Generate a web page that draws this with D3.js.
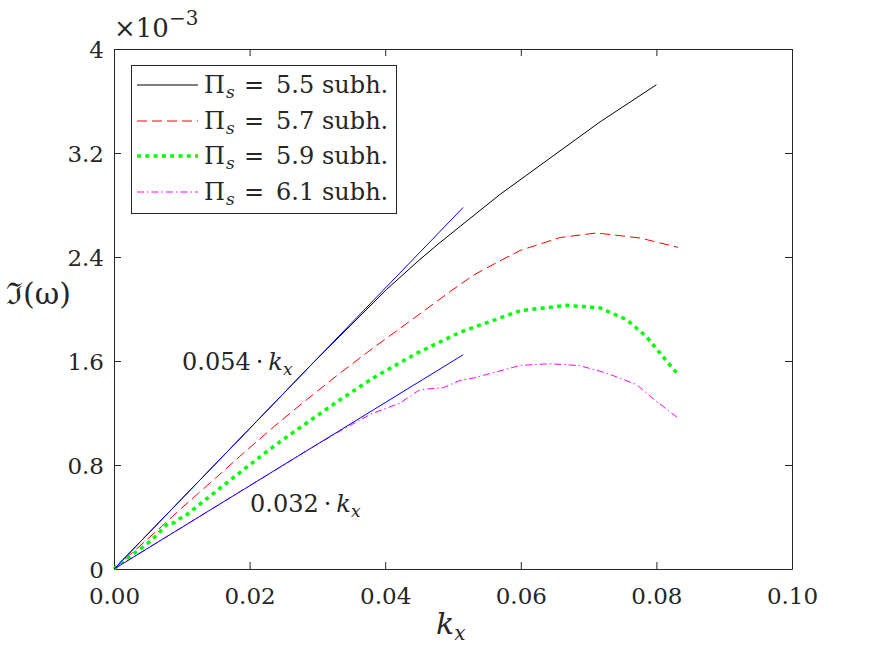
<!DOCTYPE html>
<html><head><meta charset="utf-8">
<script src="https://cdn.jsdelivr.net/npm/d3@7"></script>
<style>body{margin:0;background:#fff}text{font-family:"DejaVu Serif","Liberation Serif",serif;fill:#262626}</style>
</head><body>
<svg id="c" width="875" height="656"></svg>
<script>
// ---- data (Im(omega) in units of 1e-3) ----
const xTicks=[0,0.02,0.04,0.06,0.08,0.10];
const xTickLabels=["0.00","0.02","0.04","0.06","0.08","0.10"];
const yTicks=[0,0.8,1.6,2.4,3.2,4];
const yTickLabels=["0","0.8","1.6","2.4","3.2","4"];
const legendValues=["5.5","5.7","5.9","6.1"];

const kx55=[0,0.01,0.02,0.03,0.0333,0.0402,0.0451,0.0481,0.0569,0.0643,0.0717,0.080];
const im55=[0,0.54,1.08,1.62,1.79,2.15,2.38,2.512,2.88,3.16,3.44,3.725];

const kx57=[0,0.007,0.01,0.015,0.0191,0.0237,0.0284,0.0333,0.0382,0.044,0.0496,0.053,0.0569,0.0599,0.0658,0.0712,0.0776,0.0832];
const im57=[0,0.326,0.47,0.70,0.892,1.10,1.302,1.505,1.70,1.92,2.135,2.26,2.37,2.45,2.55,2.585,2.546,2.474];

const kx59=[0,0.0016,0.0046,0.0063,0.0072,0.008,0.0088,0.0097,0.0108,0.0127,0.0138,0.0191,0.0237,0.0284,0.0333,0.0382,0.0445,0.051,0.0569,0.0599,0.0668,0.0717,0.0756,0.0785,0.0805,0.0830];
const im59=[0,0.072,0.18,0.26,0.31,0.354,0.354,0.387,0.42,0.50,0.546,0.764,0.95,1.123,1.30,1.469,1.655,1.82,1.93,1.987,2.028,2.008,1.918,1.789,1.662,1.508];

const kx61=[0,0.005,0.01,0.015,0.02,0.025,0.0284,0.0333,0.0378,0.0422,0.0451,0.0486,0.051,0.053,0.0599,0.0643,0.0687,0.0726,0.0771,0.0800,0.0832];
const im61=[0,0.16,0.32,0.48,0.64,0.80,0.91,1.06,1.19,1.277,1.379,1.395,1.45,1.469,1.566,1.579,1.564,1.508,1.418,1.289,1.162];

const fitKx=[0,0.0515];
const fitUpper=[0,2.781];  // 0.054*kx
const fitLower=[0,1.648];  // 0.032*kx

// ---- layout ----
const svg=d3.select("#c");
const L=114,R=792,T=49,B=569;
const x=d3.scaleLinear().domain([0,0.1]).range([L,R]);
const y=d3.scaleLinear().domain([0,4]).range([B,T]);
const ax="#262626";
const fs=23;

const line=d3.line().x(d=>x(d[0])).y(d=>y(d[1]));
const zip=(a,b)=>a.map((v,i)=>[v,b[i]]);

const styles=[
 {c:"#000000",w:1,dash:null},
 {c:"#ff0000",w:1,dash:"10,5"},
 {c:"#00ff00",w:3.5,dash:"4,4.3"},
 {c:"#ff00ff",w:1,dash:"7,3,1.5,3"}
];
const series=[zip(kx55,im55),zip(kx57,im57),zip(kx59,im59),zip(kx61,im61)];

// axes box & ticks
const gAx=svg.append("g");
const xAxB=d3.axisBottom(x).tickValues(xTicks).tickFormat((d,i)=>xTickLabels[i]).tickSizeInner(-7).tickSizeOuter(0).tickPadding(19);
const xAxT=d3.axisTop(x).tickValues(xTicks).tickFormat("").tickSizeInner(-7).tickSizeOuter(0);
const yAxL=d3.axisLeft(y).tickValues(yTicks).tickFormat((d,i)=>yTickLabels[i]).tickSizeInner(-7).tickSizeOuter(0).tickPadding(10);
const yAxR=d3.axisRight(y).tickValues(yTicks).tickFormat("").tickSizeInner(-7).tickSizeOuter(0);
const gB=gAx.append("g").attr("transform",`translate(0,${B})`).call(xAxB);
const gT=gAx.append("g").attr("transform",`translate(0,${T})`).call(xAxT);
const gL=gAx.append("g").attr("transform",`translate(${L},0)`).call(yAxL);
const gR=gAx.append("g").attr("transform",`translate(${R},0)`).call(yAxR);
[gB,gT,gL,gR].forEach(g=>{
  g.selectAll("path").attr("stroke",ax).attr("stroke-width",1);
  g.selectAll("line").attr("stroke",ax).attr("stroke-width",1);
  g.selectAll("text").attr("font-size",fs).attr("font-family","DejaVu Serif").attr("fill",ax);
});
gB.selectAll("text").attr("dy","0.71em");
gL.selectAll("text").attr("dy","0.35em");

// curves
series.forEach((s,i)=>{
  const st=styles[i];
  svg.append("path").datum(s).attr("d",line).attr("fill","none")
    .attr("stroke",st.c).attr("stroke-width",st.w)
    .attr("stroke-dasharray",st.dash).attr("stroke-linejoin","round");
});
// fit lines
[fitUpper,fitLower].forEach(f=>{
  svg.append("path").datum(zip(fitKx,f)).attr("d",line).attr("fill","none")
    .attr("stroke","#0000ff").attr("stroke-width",1);
});

// annotations
function kxLabel(g,xp,yp,num){
  const t=g.append("text").attr("x",xp).attr("y",yp).attr("font-size",24).attr("fill","#000");
  t.append("tspan").text(num);
  t.append("tspan").attr("dx",5).text("\u00B7");
  t.append("tspan").attr("dx",5).attr("font-style","italic").text("k");
  t.append("tspan").attr("font-style","italic").attr("font-size",17).attr("dy",5).text("x");
  return t;
}
kxLabel(svg,182,370,"0.054");
kxLabel(svg,250,512,"0.032");

// axis labels
const xl=svg.append("text").attr("x",436).attr("y",634).attr("font-size",30).attr("fill","#000");
xl.append("tspan").attr("font-style","italic").text("k");
xl.append("tspan").attr("font-style","italic").attr("font-size",20).attr("dy",6).text("x");

svg.append("text").attr("x",6).attr("y",304).attr("font-size",30).attr("fill","#000").text("\u2111(\u03C9)");

// exponent
const ex=svg.append("text").attr("x",114).attr("y",37).attr("font-size",26).attr("fill",ax);
ex.append("tspan").text("\u00D710");
ex.append("tspan").attr("font-size",20).attr("dy",-12).text("\u22123");

// legend
const lg=svg.append("g");
lg.append("rect").attr("x",131.5).attr("y",65.5).attr("width",265).attr("height",148)
  .attr("fill","#fff").attr("stroke",ax).attr("stroke-width",1);
const rowY=[85,121,156,192];
legendValues.forEach((v,i)=>{
  const st=styles[i];
  lg.append("line").attr("x1",137).attr("x2",198).attr("y1",rowY[i]).attr("y2",rowY[i])
    .attr("stroke",st.c).attr("stroke-width",st.w).attr("stroke-dasharray",st.dash);
  const by=rowY[i]+8;
  const g=lg.append("g").attr("font-size",24);
  g.append("text").attr("x",204).attr("y",by).attr("fill","#000").text("\u03A0");
  g.append("text").attr("x",226).attr("y",by+5).attr("font-size",17).attr("font-style","italic").attr("fill","#000").text("s");
  g.append("text").attr("x",244).attr("y",by).attr("fill","#000").text("=");
  g.append("text").attr("x",276).attr("y",by).attr("fill","#000").text(v);
  g.append("text").attr("x",322).attr("y",by).attr("fill","#000").text("subh.");
});
</script>
</body></html>
